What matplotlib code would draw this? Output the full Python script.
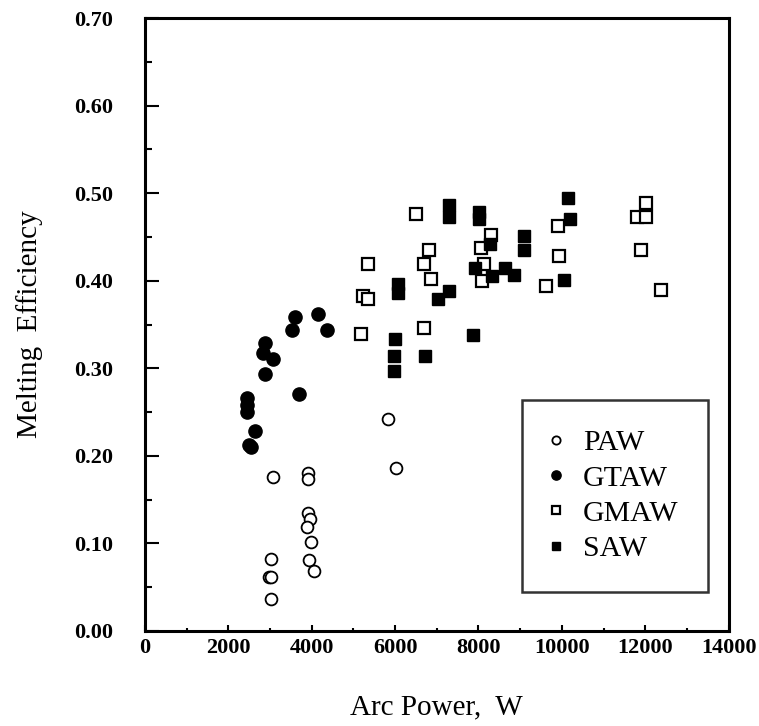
import numpy as np
import matplotlib.pyplot as plt
from matplotlib.ticker import MultipleLocator

# data (arc power W, melting efficiency)
paw_x = [3080, 3900, 3900, 3900, 3950, 3880, 3980, 3030, 2980, 3030, 3030, 3930, 4050, 5820, 6020]
paw_y = [0.176, 0.180, 0.173, 0.135, 0.128, 0.119, 0.102, 0.082, 0.062, 0.062, 0.037, 0.081, 0.068, 0.242, 0.186]

gtaw_x = [2450, 2450, 2450, 2500, 2550, 2640, 2890, 2840, 3080, 2890, 3590, 3520, 4150, 4370, 3690]
gtaw_y = [0.266, 0.258, 0.250, 0.212, 0.210, 0.228, 0.329, 0.317, 0.311, 0.294, 0.359, 0.344, 0.362, 0.344, 0.271]

gmaw_x = [6500, 8300, 8050, 6820, 6700, 8130, 6870, 8080, 9900, 9920, 9630, 5340, 5240, 5340, 5170,
          6700, 12010, 11790, 12010, 11890, 12370]
gmaw_y = [0.476, 0.452, 0.437, 0.435, 0.419, 0.419, 0.402, 0.400, 0.463, 0.428, 0.394, 0.419, 0.383, 0.379, 0.339,
          0.346, 0.489, 0.473, 0.473, 0.435, 0.390]

saw_x = [7300, 7300, 8010, 8010, 9100, 9100, 8640, 8860, 8320, 7910, 8270, 6060, 6060, 7300, 7040,
         10140, 10190, 10040, 5990, 5970, 5970, 6720, 7860]
saw_y = [0.486, 0.473, 0.479, 0.471, 0.451, 0.435, 0.414, 0.407, 0.405, 0.415, 0.442, 0.396, 0.386, 0.388, 0.379,
         0.494, 0.470, 0.401, 0.333, 0.314, 0.297, 0.314, 0.338]

plt.rcParams['font.family'] = ['Liberation Serif', 'DejaVu Serif']

fig = plt.figure(figsize=(7.59, 7.26), dpi=100)
ax = fig.add_axes([0.191, 0.131, 0.769, 0.844])

ax.plot(gmaw_x, gmaw_y, 's', ms=9, mfc='white', mec='black', mew=1.6, ls='none', label='GMAW', zorder=3)
ax.plot(saw_x, saw_y, 's', ms=9, mfc='black', mec='black', ls='none', label='SAW', zorder=4)
ax.plot(paw_x, paw_y, 'o', ms=8.5, mfc='white', mec='black', mew=1.3, ls='none', label='PAW', zorder=3)
ax.plot(gtaw_x, gtaw_y, 'o', ms=9.5, mfc='black', mec='black', ls='none', label='GTAW', zorder=4)

ax.set_xlim(0, 14000)
ax.set_ylim(0, 0.70)
ax.xaxis.set_major_locator(MultipleLocator(2000))
ax.xaxis.set_minor_locator(MultipleLocator(1000))
ax.yaxis.set_major_locator(MultipleLocator(0.1))
ax.yaxis.set_minor_locator(MultipleLocator(0.05))
ax.yaxis.set_major_formatter(plt.FormatStrFormatter('%.2f'))

ax.tick_params(which='both', direction='in', top=False, right=False, width=1.5)
ax.tick_params(axis='y', which='major', length=10, pad=23)
ax.tick_params(axis='y', which='minor', length=5)
ax.tick_params(axis='x', which='major', length=4, pad=5)
ax.tick_params(axis='x', which='minor', length=2)
for lab in ax.get_xticklabels() + ax.get_yticklabels():
    lab.set_fontweight('bold')
    lab.set_fontsize(16)
for s in ax.spines.values():
    s.set_linewidth(2.2)

ax.set_xlabel('Arc Power,  W', fontsize=21, labelpad=26)
ax.set_ylabel('Melting  Efficiency', fontsize=21, labelpad=22)

handles, labels = ax.get_legend_handles_labels()
order = [2, 3, 0, 1]
leg = ax.legend([handles[i] for i in order], [labels[i] for i in order],
                loc='lower left', bbox_to_anchor=(0.6455, 0.0636), fontsize=21.5,
                frameon=True, fancybox=False, edgecolor='black', markerscale=0.7,
                handlelength=0.3, handletextpad=0.75, labelspacing=0.28, borderpad=1.0,
                borderaxespad=0)
leg.get_frame().set_linewidth(1.8)

plt.savefig('out.png', dpi=100)
